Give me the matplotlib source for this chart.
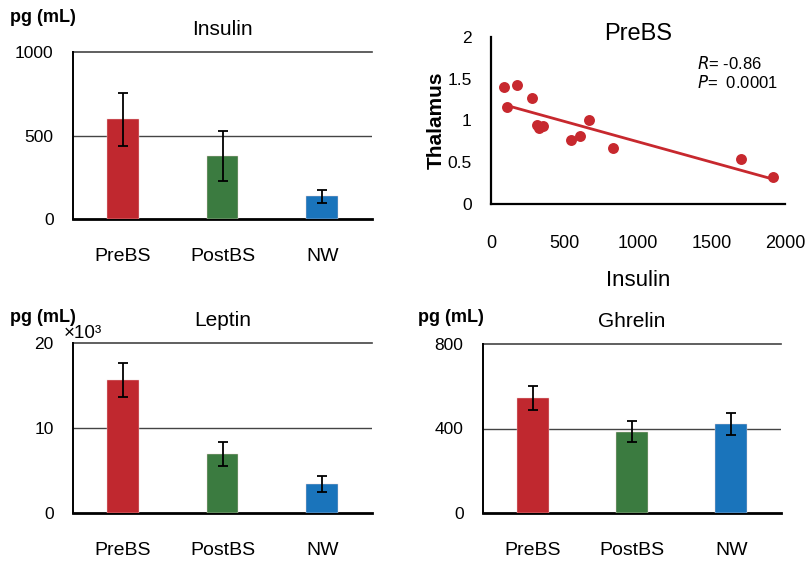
import numpy as np
import matplotlib
matplotlib.use("Agg")
import matplotlib.pyplot as plt

plt.rcParams['font.family'] = ['Liberation Sans', 'DejaVu Sans']

# ---- data ----
groups = ['PreBS', 'PostBS', 'NW']
bar_colors = ['#c0282f', '#3b7b40', '#1a74bb']

insulin_mean = [597, 375, 136]
insulin_err = [160, 150, 38]

leptin_mean = [15.7, 6.9, 3.4]
leptin_err = [2.0, 1.4, 0.95]

ghrelin_mean = [544, 385, 421]
ghrelin_err = [57, 50, 54]

# PreBS insulin vs thalamus
scat_insulin = [88, 175, 109, 277, 310, 325, 356, 664, 544, 605, 830, 1701, 1918]
scat_thalamus = [1.40, 1.43, 1.16, 1.27, 0.95, 0.91, 0.93, 1.01, 0.77, 0.81, 0.67, 0.54, 0.32]

W, H = 809, 565
fig = plt.figure(figsize=(W / 100, H / 100), dpi=100)


def bar_panel(rect, means, errs, ymax, title):
    ax = fig.add_axes(rect)
    x = np.arange(3) + 0.5
    ax.bar(x, means, width=0.32, color=bar_colors, zorder=3,
           edgecolor='#f0d0d0', linewidth=0.3)
    ax.errorbar(x, means, yerr=errs, fmt='none', ecolor='black',
                elinewidth=1.3, capsize=3.5, capthick=1.3, zorder=4)
    ax.set_xlim(0, 3)
    ax.set_ylim(0, ymax)
    ax.set_yticks([0, ymax / 2, ymax])
    ax.set_xticks(x)
    ax.set_xticklabels(groups, fontsize=14)
    ax.axhline(ymax / 2, color='#444444', lw=1.0, zorder=1)
    ax.axhline(ymax, color='#444444', lw=1.2, zorder=1, clip_on=False)
    for s in ['top', 'right']:
        ax.spines[s].set_visible(False)
    ax.spines['left'].set_linewidth(1.4)
    ax.spines['bottom'].set_linewidth(2.0)
    ax.tick_params(axis='both', length=0)
    ax.tick_params(axis='y', labelsize=12.5, pad=14)
    ax.tick_params(axis='x', pad=21)
    ax.set_title(title, fontsize=15, pad=12)
    return ax


ax1 = bar_panel([73 / W, 1 - 219 / H, 299 / W, 167 / H],
                insulin_mean, insulin_err, 1000, 'Insulin')
ax1.set_yticklabels(['0', '500', '1000'])
fig.text(10 / W, 1 - 17 / H, 'pg (mL)', fontsize=13, fontweight='bold',
         va='center', ha='left')

ax3 = bar_panel([73 / W, 1 - 513 / H, 299 / W, 170 / H],
                leptin_mean, leptin_err, 20, 'Leptin')
ax3.set_yticklabels(['0', '10', '20'])
fig.text(10 / W, 1 - 317 / H, 'pg (mL)', fontsize=13, fontweight='bold',
         va='center', ha='left')
fig.text(64 / W, 1 - 334 / H, '×10³', fontsize=13.5, va='center', ha='left')

ax4 = bar_panel([483 / W, 1 - 513 / H, 298 / W, 169 / H],
                ghrelin_mean, ghrelin_err, 800, 'Ghrelin')
ax4.set_yticklabels(['0', '400', '800'])
fig.text(418 / W, 1 - 318 / H, 'pg (mL)', fontsize=13, fontweight='bold',
         va='center', ha='left')

# ---- scatter panel ----
ax2 = fig.add_axes([491 / W, 1 - 204 / H, 294 / W, 167 / H])
xs = np.array(scat_insulin)
ys = np.array(scat_thalamus)
ax2.scatter(xs, ys, s=62, color='#c7282e', zorder=3, linewidths=0)
k, b = np.polyfit(xs, ys, 1)
xl = np.array([xs.min() + 20, xs.max()])
ax2.plot(xl, k * xl + b, color='#c7282e', lw=2, zorder=2)
ax2.set_xlim(0, 2000)
ax2.set_ylim(0, 2)
ax2.set_xticks([0, 500, 1000, 1500, 2000])
ax2.set_yticks([0, 0.5, 1, 1.5, 2])
ax2.set_yticklabels(['0', '0.5', '1', '1.5', '2'])
for s in ['top', 'right']:
    ax2.spines[s].set_visible(False)
ax2.spines['left'].set_linewidth(1.6)
ax2.spines['bottom'].set_linewidth(1.6)
ax2.tick_params(axis='both', length=0)
ax2.tick_params(axis='y', labelsize=12.5, pad=14)
ax2.tick_params(axis='x', labelsize=13, pad=22)
ax2.set_xlabel('Insulin', fontsize=16, labelpad=13)
ax2.set_ylabel('Thalamus', fontsize=15, fontweight='bold', labelpad=1)
ax2.text(0.5, 1.02, 'PreBS', transform=ax2.transAxes, fontsize=17,
         ha='center', va='center')
ax2.text(0.70, 0.84, r'$\bf\it{R}$' + '= -0.86', transform=ax2.transAxes,
         fontsize=12, va='center')
ax2.text(0.70, 0.73, r'$\bf\it{P}$' + '=  0.0001', transform=ax2.transAxes,
         fontsize=12, va='center')

fig.savefig('out.png', dpi=100)
